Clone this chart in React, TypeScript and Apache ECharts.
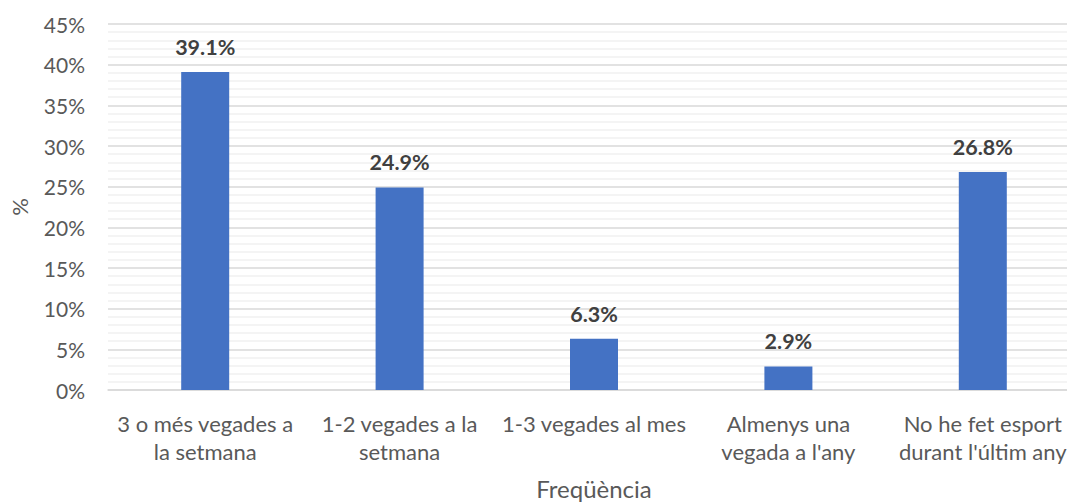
import React, { useEffect, useRef } from "react";
import * as echarts from "echarts";

const categories = [
  "3 o més vegades a\nla setmana",
  "1-2 vegades a la\nsetmana",
  "1-3 vegades al mes",
  "Almenys una\nvegada a l'any",
  "No he fet esport\ndurant l'últim any",
];
const values = [39.1, 24.9, 6.3, 2.9, 26.8];
const yTicks = { min: 0, max: 45, interval: 5 };

const FONT = "Lato, 'Noto Sans', sans-serif";

export default function App() {
  const ref = useRef<HTMLDivElement>(null);
  useEffect(() => {
    if (!ref.current) return;
    const chart = echarts.init(ref.current, null, { renderer: "svg" });
    chart.setOption({
      animation: false,
      backgroundColor: "#ffffff",
      grid: {
        left: 108,
        top: 24,
        right: 0,
        height: 366,
        containLabel: false,
        outerBoundsMode: "none",
      },
      xAxis: {
        type: "category",
        data: categories,
        name: "Freqüència",
        nameLocation: "middle",
        nameGap: 86,
        nameTextStyle: { fontFamily: FONT, fontSize: 24, color: "#595959" },
        axisLine: { show: true, lineStyle: { color: "#d9d9d9", width: 1.5 } },
        axisTick: { show: false },
        axisLabel: {
          fontFamily: FONT,
          fontSize: 22,
          color: "#595959",
          lineHeight: 28,
          margin: 19,
          interval: 0,
        },
      },
      yAxis: {
        type: "value",
        min: yTicks.min,
        max: yTicks.max,
        interval: yTicks.interval,
        name: "%",
        nameLocation: "middle",
        nameGap: 78,
        nameRotate: 90,
        nameTextStyle: { fontFamily: FONT, fontSize: 22, color: "#595959" },
        axisLine: { show: false },
        axisTick: { show: false },
        axisLabel: {
          formatter: "{value}%",
          fontFamily: FONT,
          fontSize: 21,
          color: "#595959",
          margin: 23,
        },
        splitLine: { show: true, lineStyle: { color: "#d9d9d9", width: 1.5 } },
        minorTick: { show: false, splitNumber: 5 },
        minorSplitLine: { show: true, lineStyle: { color: "#f0f0f0", width: 1.5 } },
      },
      series: [
        {
          type: "bar",
          data: values,
          barWidth: 48,
          itemStyle: { color: "#4472C4" },
          label: {
            show: true,
            position: "top",
            distance: 14,
            formatter: (p: any) => p.value.toFixed(1) + "%",
            fontFamily: FONT,
            fontSize: 21.5,
            fontWeight: "bold",
            color: "#404040",
          },
        },
      ],
    });
    return () => chart.dispose();
  }, []);
  return (
    <div
      style={{
        position: "absolute",
        left: 0,
        top: 0,
        width: 1067,
        height: 502,
        overflow: "hidden",
        background: "#fff",
      }}
    >
      <div ref={ref} style={{ width: 1080, height: 502 }} />
    </div>
  );
}
